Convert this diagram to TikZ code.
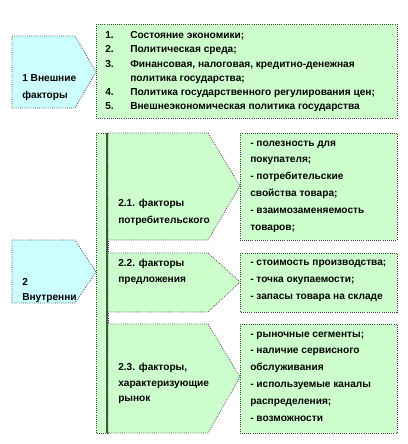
\documentclass[tikz,border=0pt]{standalone}
\usepackage{fontspec}
\setmainfont{Liberation Sans}
\usepackage{xcolor}
\definecolor{bluefill}{HTML}{CCFFFF}
\definecolor{greenfill}{HTML}{CCFFCC}
\definecolor{edgegray}{HTML}{404040}
\definecolor{barline}{HTML}{3F5A3F}

\begin{document}
\begin{tikzpicture}[x=0.75pt, y=-0.75pt,
  bluebox/.style={fill=bluefill, draw=edgegray, densely dotted, line width=0.6pt},
  greenbox/.style={fill=greenfill, draw=edgegray, densely dotted, line width=0.6pt},
  lbl/.style={anchor=north west, inner sep=0pt, align=left,
    execute at begin node={\rule{0pt}{6.5pt}},
    font=\bfseries\fontsize{7.6}{#1}\selectfont},
  lbl/.default=12.6pt]
\useasboundingbox (0,0) rectangle (408,444);
% external factors
\draw[bluebox] (12,36) -- (75,36) -- (96,72) -- (75,108) -- (12,108) -- cycle;
\draw[greenbox] (96,24) rectangle (397,118);
\node[lbl=12.75pt] (ext) at (22,74.3) {1 Внешние\\факторы};
\node[lbl=10.7pt] (extlist) at (105,31.3) {\makebox[18.75pt][l]{1.}Состояние экономики;\\
  \makebox[18.75pt][l]{2.}Политическая среда;\\
  \makebox[18.75pt][l]{3.}Финансовая, налоговая, кредитно-денежная\\
  \hspace*{18.75pt}политика государства;\\
  \makebox[18.75pt][l]{4.}Политика государственного регулирования цен;\\
  \makebox[18.75pt][l]{5.}Внешнеэкономическая политика государства};
% internal factors
\draw[bluebox] (12,240) -- (75,240) -- (96,272) -- (75,303) -- (12,303) -- cycle;
\node[lbl=11.25pt] (int) at (22,278.3) {2\\Внутренни};
\draw[greenbox] (96,133) rectangle (108,433);
\draw[barline, line width=1.5pt] (107,133) -- (107,433);
% 2.1
\draw[greenbox] (108,133) -- (208,133) -- (240,186) -- (208,240) -- (108,240) -- cycle;
\draw[greenbox] (240,133) rectangle (397,240);
\node[lbl=12.75pt] (cons) at (118,199.3) {2.1. факторы\\потребительского};
\node[lbl] (conslist) at (250,140.3) {- полезность для\\покупателя;\\- потребительские\\свойства товара;\\- взаимозаменяемость\\товаров;};
% 2.2
\draw[greenbox] (108,253) -- (208,253) -- (240,282) -- (208,312) -- (108,312) -- cycle;
\draw[greenbox] (240,253) rectangle (397,312);
\node[lbl=12pt] (supp) at (118,259.3) {2.2. факторы\\предложения};
\node[lbl=12.75pt] (supplist) at (250,259.3) {- стоимость производства;\\- точка окупаемости;\\- запасы товара на складе};
% 2.3
\draw[greenbox] (108,324) -- (208,324) -- (240,377) -- (208,433) -- (108,433) -- cycle;
\draw[greenbox] (240,324) rectangle (397,433);
\node[lbl=11.6pt] (mark) at (118,363.3) {2.3. факторы,\\характеризующие\\рынок};
\node[lbl] (marklist) at (250,331.3) {- рыночные сегменты;\\- наличие сервисного\\обслуживания\\- используемые каналы\\распределения;\\- возможности};
\end{tikzpicture}
\end{document}
